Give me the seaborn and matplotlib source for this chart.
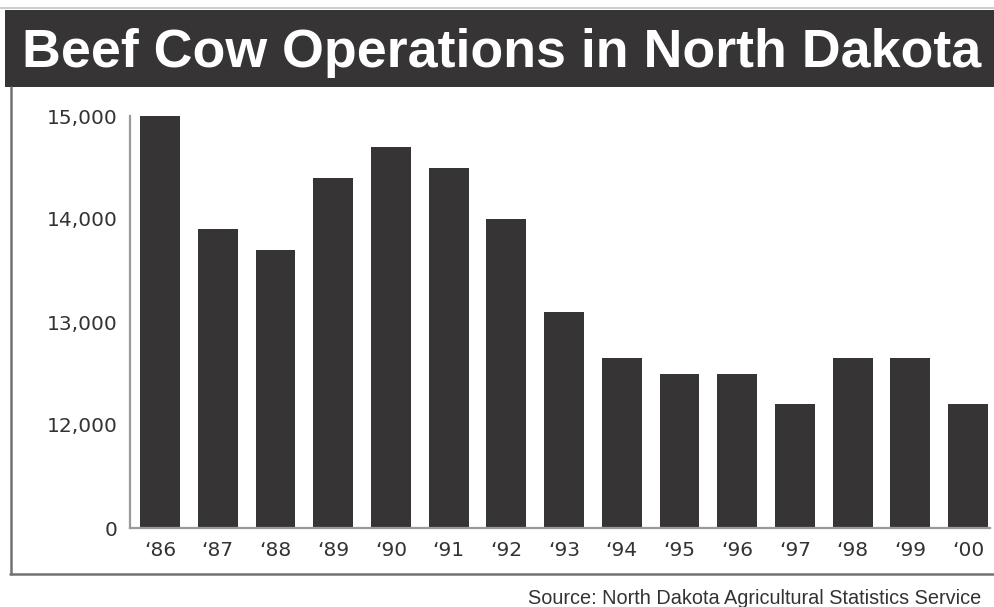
import matplotlib
matplotlib.use("Agg")
import matplotlib.pyplot as plt
import seaborn as sns
import pandas as pd
from matplotlib.patches import Rectangle
from matplotlib.lines import Line2D

# ---- data ----
years = ["\u201886", "\u201887", "\u201888", "\u201889", "\u201890", "\u201891", "\u201892",
         "\u201893", "\u201894", "\u201895", "\u201896", "\u201897", "\u201898", "\u201899", "\u201800"]
operations = [15000, 13900, 13700, 14400, 14700, 14500, 14000,
              13100, 12650, 12500, 12500, 12200, 12650, 12650, 12200]
ytick_values = [11000, 12000, 13000, 14000, 15000]   # axis is broken: bottom stands for 0
ytick_labels = ["0", "12,000", "13,000", "14,000", "15,000"]
title = "Beef Cow Operations in North Dakota"
source = "Source: North Dakota Agricultural Statistics Service"

df = pd.DataFrame({"year": years, "operations": operations})

sns.set_theme(style="white")
plt.rcParams["font.family"] = ["DejaVu Sans"]

W, H = 995, 607
fig = plt.figure(figsize=(W / 100, H / 100), dpi=100)
fig.patch.set_facecolor("white")

ax = fig.add_axes([130 / W, 1 - 528 / H, (990 - 130) / W, (528 - 116) / H])
sns.barplot(data=df, x="year", y="operations", color="#363435", width=0.69,
            saturation=1, ax=ax, edgecolor="none")

ax.set_ylim(11000, 15000)
ax.set_xlim(-0.52, 14.38)
ax.set_yticks(ytick_values)
ax.set_yticklabels(ytick_labels)
ax.set_xlabel("")
ax.set_ylabel("")
for s in ["top", "right"]:
    ax.spines[s].set_visible(False)
for s in ["left", "bottom"]:
    ax.spines[s].set_color("#9a9a9a")
    ax.spines[s].set_linewidth(1.6)
ax.tick_params(axis="both", length=0, colors="#333333", labelsize=14.5)
ax.tick_params(axis="y", pad=9)
ax.tick_params(axis="x", pad=9)
ax.set_facecolor("white")

# ---- decorations: title banner and frame ----
fig.add_artist(Line2D([0, 1], [1 - 8 / H, 1 - 8 / H], color="#c4c4c4", lw=1.2,
                      transform=fig.transFigure))
fig.add_artist(Rectangle((5 / W, 1 - 87 / H), 1 - 5 / W, 77 / H, transform=fig.transFigure,
                         facecolor="#363435", edgecolor="none"))
fig.text(22 / W, 1 - 67 / H, title, color="white", fontsize=38.7, fontweight="bold",
         family=["Liberation Sans", "DejaVu Sans"], va="baseline", ha="left")

fig.add_artist(Line2D([11 / W, 11 / W], [1 - 87 / H, 1 - 573.5 / H], color="#727272", lw=1.8,
                      transform=fig.transFigure))
fig.add_artist(Line2D([10 / W, 1], [1 - 573.5 / H, 1 - 573.5 / H], color="#727272", lw=1.8,
                      transform=fig.transFigure))

fig.text(528 / W, 1 - 598 / H, source, color="#333333", fontsize=14.3,
         family=["Liberation Sans", "DejaVu Sans"], va="center", ha="left")

fig.savefig("out.png", dpi=100)
